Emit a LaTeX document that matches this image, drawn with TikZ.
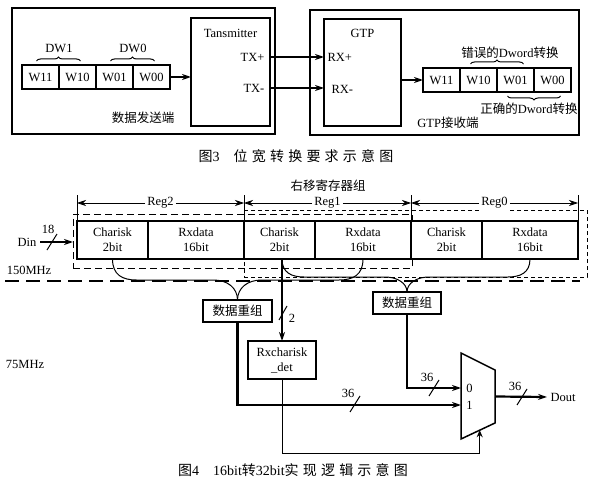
\documentclass[tikz,border=0pt]{standalone}
\usepackage{fontspec}
\setmainfont{Liberation Serif}
\newfontfamily\cjk{Noto Sans CJK SC}
\newfontfamily\cjkcap[LetterSpace=30]{Noto Sans CJK SC}
\usetikzlibrary{positioning, arrows.meta, calc, decorations.pathreplacing}

\begin{document}
\begin{tikzpicture}[>={Stealth[length=9pt, width=6pt]}, x=1pt, y=-1pt, semithick,
    every node/.style={font=\fontsize{12.5}{15}\selectfont},
    cell/.style={draw, line width=1.1pt, minimum width=37pt, minimum height=24pt, inner sep=0pt, outer sep=0pt},
    reg/.style={draw, line width=1.1pt, fill=white, minimum height=38pt, inner sep=0pt, outer sep=0pt, align=center},
    box/.style={draw, line width=1.5pt, inner sep=0pt, outer sep=0pt},
    hanzi/.style={font=\cjk\fontsize{12.5}{15}\selectfont},
    caption/.style={font=\cjkcap\fontsize{14}{16}\selectfont},
    bus/.style={line width=2.2pt},
    wire/.style={line width=1pt},
    dimline/.style={line width=0.7pt},
  ]
  \fill[white] (0,0) rectangle (600,484);
  \useasboundingbox (0,0) rectangle (600,484);

  % sender side
  \node[box, minimum width=263pt, minimum height=126pt, anchor=north west] (sender) at (12,8) {};
  \node[box, minimum width=79pt, minimum height=108pt, anchor=north west] (tx) at (191,18) {};
  \node (txname) at ($(tx.north)+(0,15)$) {Tansmitter};
  \node[anchor=east] (txp) at ($(tx.north east)+(-2,39)$) {TX+};
  \node[anchor=east] (txm) at ($(tx.north east)+(-2,70)$) {TX-};

  \node[cell, anchor=west] (sw11) at (22,77) {W11};
  \node[cell, right=0pt of sw11] (sw10) {W10};
  \node[cell, right=0pt of sw10] (sw01) {W01};
  \node[cell, right=0pt of sw01] (sw00) {W00};
  \draw[wire, decorate, decoration={brace, amplitude=4pt}] ($(sw11.north)+(-4,-4)$) -- ($(sw10.north)+(3,-4)$);
  \draw[wire, decorate, decoration={brace, amplitude=4pt}] ($(sw01.north)+(-4,-4)$) -- ($(sw00.north)+(3,-4)$);
  \node (dw1) at ($(sw11.north east)+(0,-17)$) {DW1};
  \node (dw0) at ($(sw01.north east)+(0,-17)$) {DW0};
  \node[hanzi] (sendname) at (143,118) {数据发送端};
  \draw[->, bus] (sw00.east) -- (sw00.east -| tx.west);

  % receiver side
  \node[box, minimum width=269pt, minimum height=125pt, anchor=north west] (receiver) at (310,10) {};
  \node[box, minimum width=77pt, minimum height=107pt, anchor=north west] (gtp) at (324,19) {};
  \node (gtpname) at ($(gtp.north)+(0,14)$) {GTP};
  \node[anchor=west] (rxp) at ($(gtp.north west)+(0,38)$) {RX+};
  \node[anchor=west] (rxm) at ($(gtp.north west)+(4,70)$) {RX-};
  \draw[->, bus] (tx.east |- txp) -- (gtp.west |- txp);
  \draw[->, line width=1.2pt] (tx.east |- txm) -- (gtp.west |- txm);

  \node[cell, anchor=west] (rw11) at (423,80) {W11};
  \node[cell, right=0pt of rw11] (rw10) {W10};
  \node[cell, right=0pt of rw10] (rw01) {W01};
  \node[cell, right=0pt of rw01] (rw00) {W00};
  \draw[->, bus] (gtp.east |- rw11) -- (rw11.west);
  \draw[wire, decorate, decoration={brace, amplitude=4pt}] ($(rw10.north)+(-8,-4)$) -- ($(rw01.north)+(8,-4)$);
  \draw[wire, decorate, decoration={brace, amplitude=4pt, mirror}] ($(rw01.south)+(-8,4)$) -- ($(rw00.south)+(8,4)$);
  \node[hanzi] (wrong) at (510,53) {错误的{\rmfamily Dword}转换};
  \node[hanzi] (right) at (529,109) {正确的{\rmfamily Dword}转换};
  \node[hanzi] (recvname) at (448,123) {{\rmfamily GTP}接收端};

  \node[caption] (cap3) at (296,156) {图{\rmfamily 3}\hspace{1em}位宽转换要求示意图};

  % shift registers
  \node[hanzi] (shifttitle) at (328,186) {右移寄存器组};
  \node[draw, line width=1pt, dash pattern=on 7pt off 4pt, minimum width=339pt, minimum height=54pt, anchor=north west, outer sep=0pt] (grpA) at (73,214) {};
  \node[draw, line width=1pt, dash pattern=on 4pt off 3pt, minimum width=343pt, minimum height=67pt, anchor=north west, outer sep=0pt] (grpB) at (244,210) {};
  \node[reg, minimum width=71pt, anchor=north west] (ck2) at (77,221) {Charisk\\2bit};
  \node[reg, minimum width=96pt, right=0pt of ck2] (rx2) {Rxdata\\16bit};
  \node[reg, minimum width=71pt, right=0pt of rx2] (ck1) {Charisk\\2bit};
  \node[reg, minimum width=96pt, right=0pt of ck1] (rx1) {Rxdata\\16bit};
  \node[reg, minimum width=71pt, right=0pt of rx1] (ck0) {Charisk\\2bit};
  \node[reg, minimum width=96pt, right=0pt of ck0] (rx0) {Rxdata\\16bit};

  \foreach \c in {ck2, ck1, ck0}
    \draw[dimline] (\c.north west) -- ++(0,-26);
  \draw[dimline] (rx0.north east) -- ++(0,-26);
  \node[fill=white, inner sep=2pt] (reg2) at ($(ck2.north west)!0.5!(ck1.north west)+(0,-18)$) {Reg2};
  \node[fill=white, inner sep=2pt] (reg1) at ($(ck1.north west)!0.5!(ck0.north west)+(0,-18)$) {Reg1};
  \node[fill=white, inner sep=2pt] (reg0) at ($(ck0.north west)!0.5!(rx0.north east)+(0,-18)$) {Reg0};
  \draw[->, dimline] (reg2) -- (reg2 -| ck2.west);
  \draw[->, dimline] (reg2) -- (reg2 -| ck1.west);
  \draw[->, dimline] (reg1) -- (reg1 -| ck1.west);
  \draw[->, dimline] (reg1) -- (reg1 -| ck0.west);
  \draw[->, dimline] (reg0) -- (reg0 -| ck0.west);
  \draw[->, dimline] (reg0) -- (reg0 -| rx0.east);

  \node (din) at (27,242) {Din};
  \draw[->, bus] (din) -- (din -| grpA.west);
  \draw[wire] (52,242) +(-5,8) -- +(5,-8);
  \node (w18) at (48,229) {18};

  % clock domains
  \draw[line width=2.4pt, dash pattern=on 14pt off 7pt] (5,281) -- (580,281);
  \node (fast) at (29,270) {150MHz};
  \node (slow) at (25,364) {75MHz};

  % 75MHz logic
  \node[box, hanzi, minimum width=69pt, minimum height=22pt] (merge1) at (237.5,311) {数据重组};
  \node[box, hanzi, minimum width=68pt, minimum height=22pt] (merge2) at (407,303) {数据重组};
  \node[box, minimum width=68pt, minimum height=38pt, align=center] (det) at (282,360) {Rxcharisk\\\_det};

  \draw[wire] (ck2.south) .. controls +(0,16) and +(-14,0) .. ($(ck2.south)+(24,21)$)
    -- ($(merge1.north)+(-24,-20)$) .. controls +(14,0) and +(0,-12) .. (merge1.north);
  \draw[wire] (rx1.south) .. controls +(0,16) and +(14,0) .. ($(rx1.south)+(-24,21)$)
    -- ($(merge1.north)+(24,-20)$) .. controls +(-14,0) and +(0,-12) .. (merge1.north);
  \draw[wire] (det.north |- ck1.south) .. controls +(0,14) and +(-12,0) .. ($(det.north |- ck1.south)+(22,18)$)
    -- ($(merge2.north)+(-22,-15)$) .. controls +(12,0) and +(0,-9) .. (merge2.north);
  \draw[wire] (rx0.south) .. controls +(0,14) and +(12,0) .. ($(rx0.south)+(-22,18)$)
    -- ($(merge2.north)+(22,-15)$) .. controls +(-12,0) and +(0,-9) .. (merge2.north);

  \draw[->, bus] (det.north |- ck1.south) -- (det.north);
  \draw[wire] (283,313) +(-4,7) -- +(4,-7);
  \node (w2) at (292,318) {2};

  % mux
  \coordinate (mux tl) at (461,353);
  \coordinate (mux tr) at (495,370);
  \coordinate (mux br) at (495,423);
  \coordinate (mux bl) at (461,439);
  \draw[line width=1.5pt] (mux tl) -- (mux tr) -- (mux br) -- (mux bl) -- cycle;
  \node[anchor=west, inner sep=2pt] (in0) at (464,388) {0};
  \node[anchor=west, inner sep=2pt] (in1) at (464,405) {1};
  \coordinate (mux out) at ($(mux tr)!0.5!(mux br)$);
  \coordinate (mux sel) at ($(mux bl)!0.55!(mux br)$);

  \draw[->, bus] (merge1.south) |- (in1 -| mux tl);
  \draw[wire] (355,404) +(-5,8) -- +(5,-8);
  \node (w36a) at (348,393) {36};
  \draw[->, bus] (merge2.south) |- (in0 -| mux tl);
  \draw[wire] (434,388) +(-5,8) -- +(5,-8);
  \node (w36b) at (427,377) {36};
  \node[anchor=west] (dout) at (547,397) {Dout};
  \draw[->, bus] (mux out) -- (dout.west);
  \draw[wire] (522,397) +(-5,8) -- +(5,-8);
  \node (w36c) at (515,386) {36};
  \draw[-{Stealth[length=7pt, width=6pt]}, wire] (det.south) |- ($(mux sel)+(0,23)$) -- (mux sel);

  \node[caption] (cap4) at (293,470) {图{\rmfamily 4}\hspace{1em}{\rmfamily 16bit}转{\rmfamily 32bit}实现逻辑示意图};
\end{tikzpicture}
\end{document}
